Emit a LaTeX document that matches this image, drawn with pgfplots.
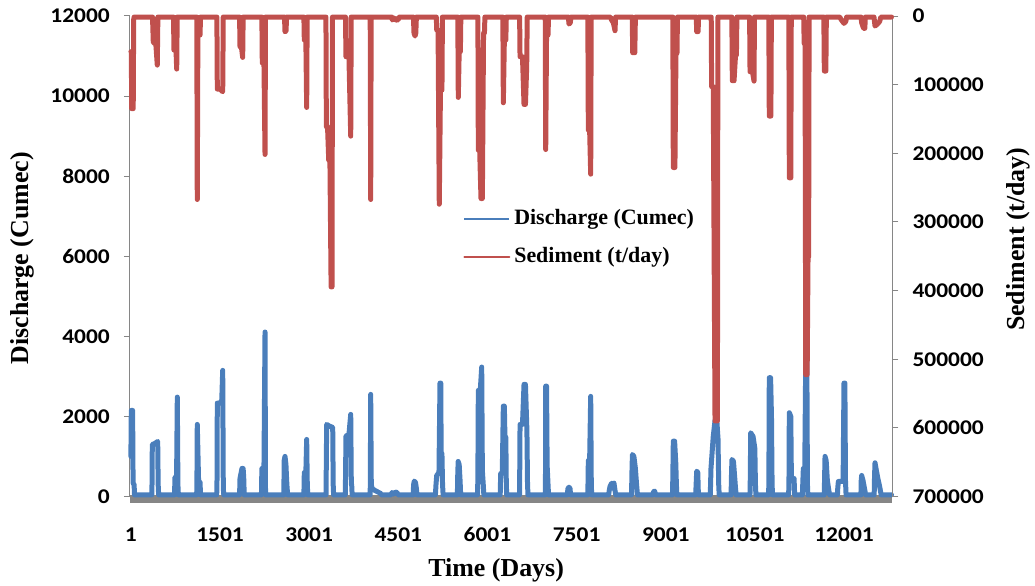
\documentclass[border=0pt]{standalone}
\usepackage{pgfplots}
\pgfplotsset{compat=1.18}
\usepackage{pgfplotstable}
\usepackage{fontspec}
\setmainfont{Liberation Serif}
\newfontfamily\tickfont[FakeStretch=1.12]{Carlito}

\definecolor{qblue}{RGB}{74,126,187}
\definecolor{sred}{RGB}{192,80,77}
\definecolor{axisgray}{RGB}{134,134,134}

% Daily discharge (cumec), reduced to the shape of each flood event
\pgfplotstableread{
day q
1 1000
8 2150
30 2150
38 330
55 300
62 40
352 40
358 400
361 1300
400 1320
452 1375
460 300
468 40
735 40
743 480
770 500
782 2483
792 300
800 40
1108 40
1112 300
1118 1800
1140 380
1165 360
1172 40
1445 40
1450 400
1455 2333
1500 2333
1530 2400
1546 3150
1556 200
1564 40
1830 40
1837 450
1870 700
1890 700
1900 450
1908 40
2198 40
2205 700
2240 700
2258 4108
2266 200
2272 40
2575 40
2580 900
2594 1000
2610 800
2622 400
2630 200
2640 40
2912 40
2919 600
2945 600
2959 1425
2968 400
2976 40
3285 40
3290 1000
3296 1800
3340 1760
3397 1725
3405 300
3412 40
3608 40
3613 500
3620 1510
3670 1550
3700 2050
3710 300
3716 300
3724 40
4026 40
4030 300
4036 2550
4046 300
4060 200
4108 150
4200 80
4215 40
4380 40
4395 100
4420 60
4450 110
4480 100
4495 40
4752 40
4758 300
4770 385
4790 350
4805 200
4815 40
5125 40
5135 300
5147 525
5185 600
5202 2833
5215 2833
5222 1075
5235 1075
5245 300
5255 40
5495 40
5500 500
5508 875
5525 800
5540 400
5550 40
5835 40
5840 600
5847 2650
5880 2650
5904 3233
5915 650
5930 300
5940 40
6215 40
6224 575
6250 575
6268 2258
6285 2258
6295 1483
6310 1483
6318 300
6325 40
6540 40
6545 800
6549 1800
6590 1800
6616 2800
6640 2800
6665 1633
6675 300
6683 40
6973 40
6977 300
6981 2758
6995 2758
7005 775
7020 300
7028 40
7345 40
7355 200
7373 233
7390 200
7400 40
7690 40
7698 900
7720 900
7738 2500
7748 300
7755 40
8040 40
8050 150
8063 250
8090 333
8110 200
8130 333
8147 150
8160 40
8425 40
8432 600
8440 1050
8465 1000
8490 700
8510 300
8525 40
8785 40
8795 120
8815 133
8830 40
9115 40
9120 500
9128 1383
9150 1383
9170 825
9180 300
9188 40
9505 40
9512 300
9522 633
9540 600
9550 40
9750 40
9755 300
9762 700
9800 1500
9830 1900
9860 1900
9880 1450
9892 300
9900 40
10100 40
10108 600
10115 925
10140 880
10160 500
10175 200
10185 40
10418 40
10424 500
10430 1592
10470 1500
10500 1200
10510 300
10518 40
10730 40
10736 300
10743 2967
10765 2967
10780 1983
10790 300
10798 40
11068 40
11074 300
11080 2092
11105 2000
11115 450
11160 450
11170 40
11300 40
11306 300
11316 700
11340 700
11356 3383
11375 3383
11385 300
11392 40
11668 40
11674 500
11681 1000
11700 900
11720 400
11745 150
11760 40
11890 40
11895 200
11905 375
11985 375
12000 2833
12015 2833
12025 400
12035 40
12285 40
12290 400
12298 525
12320 400
12345 200
12365 40
12508 40
12514 500
12522 842
12545 650
12570 450
12600 250
12625 40
12800 40
}\discharge

% Daily sediment load (t/day)
\pgfplotstableread{
day s
1 52000
8 52000
15 135000
40 135000
48 5000
56 1500
365 1500
378 38900
420 40000
445 71500
455 1500
718 1500
726 49600
760 50000
772 77300
780 1500
1110 1500
1118 267300
1128 27700
1165 27700
1172 1500
1448 1500
1455 106500
1500 106500
1546 110300
1555 1500
1830 1500
1837 44700
1860 44700
1882 60300
1890 1500
2205 1500
2212 68500
2240 68500
2258 201700
2266 1500
2586 1500
2594 22800
2612 22000
2620 1500
2912 1500
2919 35000
2945 35000
2959 133200
2967 1500
3283 1500
3290 161400
3310 161400
3330 210000
3350 210000
3370 394700
3385 394700
3393 1500
3612 1500
3620 59300
3670 59300
3700 175000
3708 1500
4028 1500
4036 267300
4044 1500
4390 1500
4400 5800
4430 3000
4460 6000
4500 5500
4510 1500
4755 1500
4765 25000
4782 29200
4795 25000
4805 1500
5140 1500
5147 20400
5170 20400
5190 274200
5210 107900
5235 107900
5243 1500
5502 1500
5510 118600
5525 52000
5545 52000
5553 1500
5840 1500
5847 195400
5870 195400
5892 265900
5915 265900
5935 24800
5950 24800
5958 1500
6260 1500
6268 126400
6285 35000
6310 35000
6318 1500
6542 1500
6549 59300
6590 59300
6616 128800
6640 128800
6661 73900
6670 1500
6973 1500
6981 194500
6995 27700
7020 27700
7028 1500
7362 1500
7373 11700
7395 10000
7405 1500
7690 1500
7698 166200
7720 166200
7738 230400
7746 1500
8070 1500
8090 6000
8120 10000
8147 21400
8157 1500
8437 1500
8445 53500
8480 53500
8490 1500
9120 1500
9128 220700
9155 220700
9173 54400
9190 54400
9198 1500
9514 1500
9522 22800
9545 22800
9553 1500
9766 1500
9773 103000
9800 103000
9830 590000
9870 590000
9878 1500
10113 1500
10121 94300
10150 94300
10175 56900
10190 56900
10198 1500
10412 1500
10419 81200
10460 81200
10486 94800
10494 1500
10735 1500
10743 145800
10770 145800
10778 1500
11072 1500
11080 235800
11105 235800
11113 1500
11322 1500
11330 40000
11345 40000
11356 522500
11380 522500
11395 351000
11405 351000
11413 1500
11661 1500
11669 80200
11695 80200
11703 1500
11930 1500
11950 5000
12000 10700
12030 8000
12045 1500
12285 1500
12298 10000
12330 18000
12350 18000
12360 1500
12505 1500
12522 14600
12560 12000
12600 8000
12620 1500
12800 1500
}\sediment

\pgfplotsset{
  common/.style={
    scale only axis, width=762.3bp, height=480.5bp,
    xmin=-14, xmax=12813,
    clip=false,
    scaled ticks=false,
    /pgf/number format/fixed,
    /pgf/number format/precision=0,
    /pgf/number format/1000 sep={},
    /pgf/number format/assume math mode=true,
    ticklabel style={font=\tickfont\bfseries\fontsize{21}{21}\selectfont, text=black},
    tick align=outside,
    major tick length=6bp,
  },
  series/.style={line width=5bp, line join=round, line cap=round},
}

\begin{document}
\begin{tikzpicture}
% Discharge on the left axis
\begin{axis}[common, name=ax,
    ymin=0, ymax=12000,
    axis y line*=left, axis x line*=bottom,
    x axis line style={draw=none},
    y axis line style={draw=axisgray, line width=1bp},
    xtick={1,1501,...,12001},
    ytick={0,2000,...,12000},
    xtick style={draw=none},
    ytick style={draw=axisgray, line width=1bp},
    yticklabel style={anchor=east, inner sep=0pt, xshift=-14bp},
    xticklabel style={anchor=north, inner sep=0pt, yshift=-25bp},
  ]
  \draw[axisgray, line width=8bp] ([yshift=-2.5bp]axis description cs:0,0) -- ([yshift=-2.5bp]axis description cs:1,0);
  \addplot[qblue, series] table[x=day, y=q] {\discharge};
\end{axis}
% Sediment on the reversed right axis
\begin{axis}[common,
    ymin=0, ymax=700000, y dir=reverse,
    axis y line*=right, axis x line=none,
    y axis line style={draw=axisgray, line width=1bp},
    ytick={0,100000,...,700000},
    ytick style={draw=axisgray, line width=1bp},
    yticklabel style={anchor=west, inner sep=0pt, xshift=14bp},
    legend style={at={(axis description cs:0.437,0.539)}, anchor=west,
      draw=none, fill=none, inner sep=0pt, row sep=17bp,
      font=\bfseries\fontsize{22}{22}\selectfont,
      nodes={inner sep=0pt, text height=16bp, text depth=5bp},
      /tikz/every odd column/.append style={column sep=4bp}},
    legend cell align=left,
    legend image code/.code={\draw[line width=2bp] (0bp,0bp) -- (45bp,0bp);},
  ]
  \addlegendimage{qblue}
  \addplot[sred, series] table[x=day, y=s] {\sediment};
  \legend{Discharge (Cumec), Sediment (t/day)}
\end{axis}
\node[rotate=90, font=\bfseries\fontsize{26}{26}\selectfont] at ([xshift=-108bp, yshift=-2bp]ax.west) {Discharge (Cumec)};
\node[rotate=90, font=\bfseries\fontsize{26}{26}\selectfont] at ([xshift=126bp, yshift=17bp]ax.east) {Sediment (t/day)};
\node[font=\bfseries\fontsize{26}{26}\selectfont] at ([xshift=-15bp, yshift=-74bp]ax.south) {Time (Days)};
\pgfresetboundingbox
\path ([shift={(-130bp,-89.5bp)}]ax.south west) rectangle ([shift={(142.7bp,16bp)}]ax.north east);
\end{tikzpicture}
\end{document}
